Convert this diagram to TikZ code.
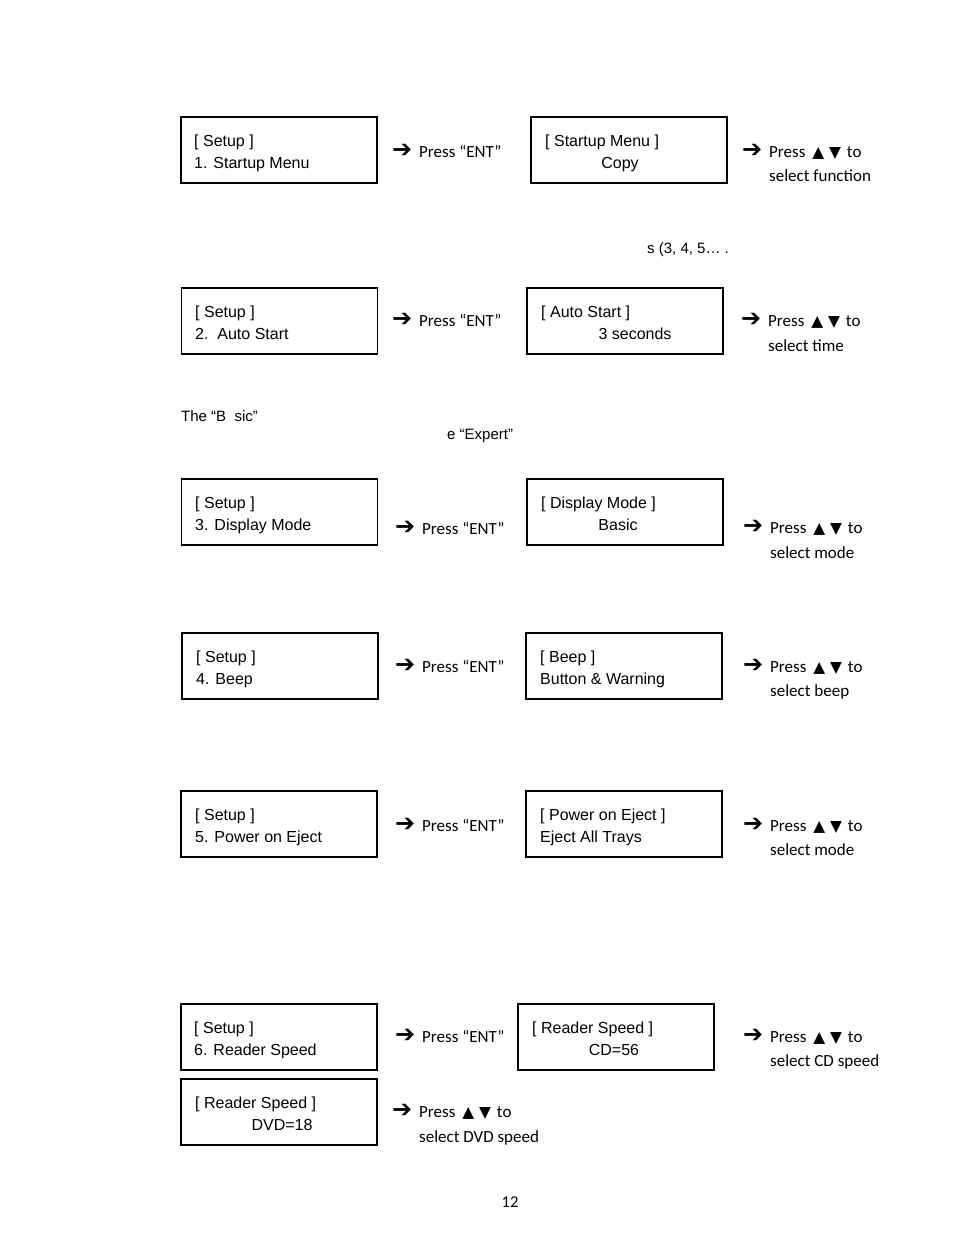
\documentclass[tikz,border=0pt]{standalone}
\usepackage{fontspec}
\setmainfont{Liberation Sans}
\newfontfamily\calfont{Carlito}
\newfontfamily\symfont{DejaVu Sans}
\newfontfamily\symboldfont{DejaVu Sans Bold}
\newcommand{\lcdf}{\fontsize{16}{22}\selectfont}
\newcommand{\smallf}{\fontsize{15}{20}\selectfont}
\newcommand{\notef}{\calfont\fontsize{17}{22}\selectfont}
\newcommand{\arrowf}{\symboldfont\fontsize{24}{26}\selectfont}
\newcommand{\UD}{\hspace{3pt}{\symfont\fontsize{15.5}{16}\selectfont ▲\hspace{5pt}▼}\hspace{2pt}}
\begin{document}
\begin{tikzpicture}[x=1pt,y=-1pt,
  lcdbox/.style={draw, line width=1.5pt, minimum width=196pt, minimum height=66pt, inner sep=0pt},
  lcd/.style={font=\lcdf, anchor=base west, inner sep=0pt},
  lcdc/.style={font=\lcdf, anchor=base, inner sep=0pt},
  frag/.style={font=\smallf, anchor=base west, inner sep=0pt},
  note/.style={font=\notef, anchor=base west, inner sep=0pt},
  arrowglyph/.style={font=\arrowf, anchor=west, inner sep=0pt}]
\useasboundingbox (0,0) rectangle (954,1235);
\fill[white] (0,0) rectangle (954,1235);

% Row 1
\node[lcdbox] (b1a) at (279,150) {};
\node[lcdbox] (b1b) at (629,150) {};
\node[lcd] (t1a1) at (194,146) {[ Setup ]};
\node[lcd] (t1a2) at (194,168) {1. Startup Menu};
\node[lcd] (t1b1) at (545,146) {[ Startup Menu ]};
\node[lcdc] (t1b2) at (620,168) {Copy};
\node[arrowglyph] (a1l) at (392,151) {➔};
\node[note] (p1l) at (419,157) {Press “ENT”};
\node[arrowglyph] (a1r) at (742,151) {➔};
\node[note] (p1r) at (769,157) {Press \UD{} to};
\node[note] (s1r) at (769,181) {select function};

\node[frag] (f1) at (647,253) {s (3, 4, 5… .};

% Row 2
\node[lcdbox] (b2a) at (279.5,321) {};
\node[lcdbox] (b2b) at (625,321) {};
\node[lcd] (t2a1) at (195,317) {[ Setup ]};
\node[lcd] (t2a2) at (195,339) {2.\ \ Auto Start};
\node[lcd] (t2b1) at (541,317) {[ Auto Start ]};
\node[lcdc] (t2b2) at (635,339) {3 seconds};
\node[arrowglyph] (a2l) at (392,320) {➔};
\node[note] (p2l) at (419,326) {Press “ENT”};
\node[arrowglyph] (a2r) at (741,320) {➔};
\node[note] (p2r) at (768,326) {Press \UD{} to};
\node[note] (s2r) at (768,351) {select time};

\node[frag] (f2) at (181,421) {The “B\ \ sic”};
\node[frag] (f3) at (447,439) {e “Expert”};

% Row 3
\node[lcdbox] (b3a) at (279.5,512) {};
\node[lcdbox] (b3b) at (625,512) {};
\node[lcd] (t3a1) at (195,508) {[ Setup ]};
\node[lcd] (t3a2) at (195,530) {3. Display Mode};
\node[lcd] (t3b1) at (541,508) {[ Display Mode ]};
\node[lcdc] (t3b2) at (618,530) {Basic};
\node[arrowglyph] (a3l) at (395,528) {➔};
\node[note] (p3l) at (422,534) {Press “ENT”};
\node[arrowglyph] (a3r) at (743,527) {➔};
\node[note] (p3r) at (770,533) {Press \UD{} to};
\node[note] (s3r) at (770,558) {select mode};

% Row 4
\node[lcdbox] (b4a) at (280,666) {};
\node[lcdbox] (b4b) at (624,666) {};
\node[lcd] (t4a1) at (196,662) {[ Setup ]};
\node[lcd] (t4a2) at (196,684) {4. Beep};
\node[lcd] (t4b1) at (540,662) {[ Beep ]};
\node[lcd] (t4b2) at (540,684) {Button \& Warning};
\node[arrowglyph] (a4l) at (395,666) {➔};
\node[note] (p4l) at (422,672) {Press “ENT”};
\node[arrowglyph] (a4r) at (743,666) {➔};
\node[note] (p4r) at (770,672) {Press \UD{} to};
\node[note] (s4r) at (770,696) {select beep};

% Row 5
\node[lcdbox] (b5a) at (279,824) {};
\node[lcdbox] (b5b) at (624,824) {};
\node[lcd] (t5a1) at (195,820) {[ Setup ]};
\node[lcd] (t5a2) at (195,842) {5. Power on Eject};
\node[lcd] (t5b1) at (540,820) {[ Power on Eject ]};
\node[lcd] (t5b2) at (540,842) {Eject All Trays};
\node[arrowglyph] (a5l) at (395,825) {➔};
\node[note] (p5l) at (422,831) {Press “ENT”};
\node[arrowglyph] (a5r) at (743,825) {➔};
\node[note] (p5r) at (770,831) {Press \UD{} to};
\node[note] (s5r) at (770,855) {select mode};

% Row 6
\node[lcdbox] (b6a) at (279,1037) {};
\node[lcdbox] (b6b) at (616,1037) {};
\node[lcd] (t6a1) at (194,1033) {[ Setup ]};
\node[lcd] (t6a2) at (194,1055) {6. Reader Speed};
\node[lcd] (t6b1) at (532,1033) {[ Reader Speed ]};
\node[lcdc] (t6b2) at (614,1055) {CD=56};
\node[arrowglyph] (a6l) at (395,1036) {➔};
\node[note] (p6l) at (422,1042) {Press “ENT”};
\node[arrowglyph] (a6r) at (743,1036) {➔};
\node[note] (p6r) at (770,1042) {Press \UD{} to};
\node[note] (s6r) at (770,1066) {select CD speed};

% Row 7
\node[lcdbox] (b7a) at (279,1112) {};
\node[lcd] (t7a1) at (195,1108) {[ Reader Speed ]};
\node[lcdc] (t7a2) at (282,1130) {DVD=18};
\node[arrowglyph] (a7l) at (392,1111) {➔};
\node[note] (p7l) at (419,1117) {Press \UD{} to};
\node[note] (s7l) at (419,1142) {select DVD speed};

% Page number
\node[font=\calfont\fontsize{16.5}{18}\selectfont, anchor=base, inner sep=0pt] (pg) at (510,1207) {12};
\end{tikzpicture}
\end{document}
